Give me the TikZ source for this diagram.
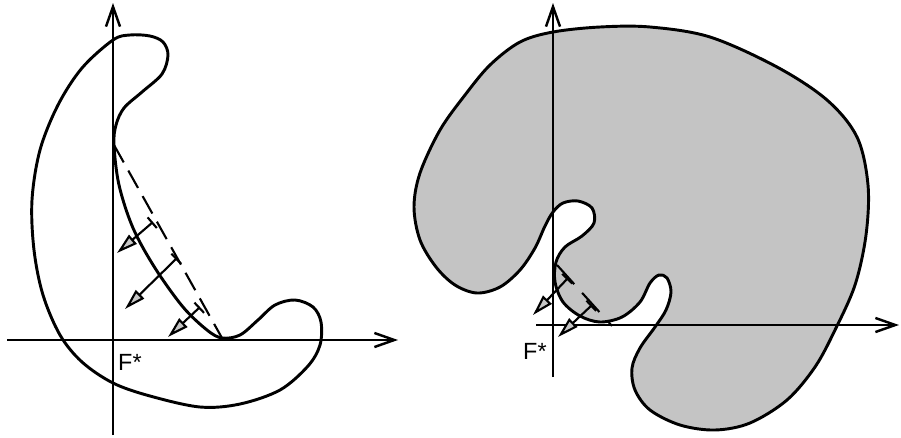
\documentclass[tikz,border=0pt]{standalone}
\usepackage{fontspec}
\setmainfont{Liberation Sans}
\usetikzlibrary{arrows.meta}
\definecolor{bodygray}{RGB}{196,196,196}
\tikzset{
	axisline/.style={line width=2.1pt, -{Straight Barb[length=17pt,width=12pt]}},
	outline/.style={line width=2.5pt},
	load/.style={line width=1.8pt, {Bar[width=12pt]}-{Triangle[fill=gray!45,length=18pt,width=10pt]}},
	chord/.style={line width=1.8pt, dash pattern=on 17pt off 8pt},
	ftext/.style={font=\fontsize{20}{22}\selectfont, inner sep=0pt, anchor=base west}
}
\begin{document}
\begin{tikzpicture}[x=0.03cm, y=-0.03cm]
	\useasboundingbox (0,0) rectangle (901,437);
	\draw[outline] plot[smooth cycle, tension=0.55] coordinates {(113,40) (130,35) (150,36) (163,42) (168,55) (162,74) (142,92) (124,108) (116,125) (114,145) (119,185) (133,228) (155,268) (183,307) (207,330) (222,338) (240,335) (258,320) (275,305) (295,300) (313,307) (321,322) (320,345) (308,366) (280,390) (240,404) (200,407) (150,396) (113,383) (82,362) (60,335) (43,295) (34,250) (32,200) (40,150) (58,105) (82,68)};
	\draw[axisline] (113,435) -- (113,3);
	\draw[axisline] (7,340) -- (398,340);
	\node[ftext] (fleft) at (118,370) {F*};
	\draw[chord] (114,145) -- (222,338);
	\draw[load] (153,222) -- (117,253);
	\draw[load] (177,258) -- (125,309);
	\draw[load] (200,307) -- (168,337);
	\draw[outline, fill=bodygray] plot[smooth cycle, tension=0.55] coordinates {(553,32) (600,27) (650,27) (710,37) (777,67) (827,100) (857,137) (868,185) (866,235) (855,285) (835,330) (815,367) (787,400) (750,423) (715,430) (680,425) (650,410) (635,390) (632,368) (640,348) (655,327) (666,310) (671,292) (667,278) (659,275) (650,283) (640,302) (622,317) (600,322) (580,316) (563,302) (555,282) (556,262) (565,247) (582,236) (594,223) (592,208) (578,201) (563,203) (553,212) (545,226) (535,248) (520,270) (500,287) (477,293) (455,285) (436,267) (420,240) (414,207) (420,173) (440,130) (465,95) (490,65) (520,42)};
	\draw[axisline] (553,377) -- (553,3);
	\draw[axisline] (536,325) -- (899,325);
	\node[ftext] (fright) at (523,359) {F*};
	\draw[chord, dash pattern=on 22pt off 10pt] (557,265) -- (612,326);
	\draw[load] (568,278) -- (533,315);
	\draw[load] (592,305) -- (558,337);
\end{tikzpicture}
\end{document}
